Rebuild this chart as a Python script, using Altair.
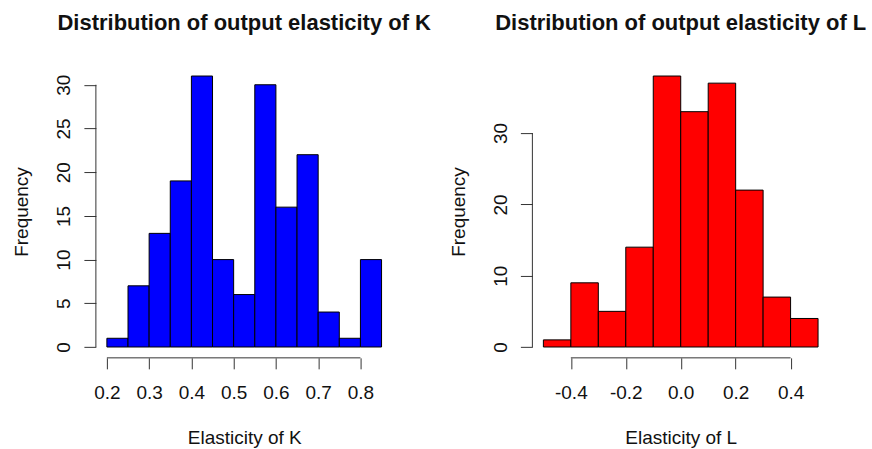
import altair as alt
import pandas as pd

# ---- data ----
k_bin_start = [0.20, 0.25, 0.30, 0.35, 0.40, 0.45, 0.50, 0.55, 0.60, 0.65, 0.70, 0.75, 0.80]
k_counts = [1, 7, 13, 19, 31, 10, 6, 30, 16, 22, 4, 1, 10]
k_bin_width = 0.05
k_x_ticks = [0.2, 0.3, 0.4, 0.5, 0.6, 0.7, 0.8]
k_y_ticks = [0, 5, 10, 15, 20, 25, 30]

l_bin_start = [-0.5, -0.4, -0.3, -0.2, -0.1, 0.0, 0.1, 0.2, 0.3, 0.4]
l_counts = [1, 9, 5, 14, 38, 33, 37, 22, 7, 4]
l_bin_width = 0.1
l_x_ticks = [-0.4, -0.2, 0.0, 0.2, 0.4]
l_y_ticks = [0, 10, 20, 30]

FONT = "Liberation Sans"
W, H = 297, 293
AXIS_COLOR = "#333333"


def panel(starts, counts, width, xticks, yticks, color, title, xtitle, label_expr):
    df = pd.DataFrame({
        "start": starts,
        "end": [s + width for s in starts],
        "count": counts,
        "base": [0] * len(counts),
    })
    xmin, xmax = starts[0], starts[-1] + width
    xpad = 0.04 * (xmax - xmin)
    xdom = [xmin - xpad, xmax + xpad]
    ymax = max(counts)
    ypad = 0.04 * ymax
    ydom = [-ypad, ymax + ypad]

    xscale = alt.Scale(domain=xdom, nice=False, zero=False)
    yscale = alt.Scale(domain=ydom, nice=False, zero=False)

    xaxis = alt.Axis(
        values=xticks, title=xtitle, domain=False, grid=False,
        tickSize=11, tickColor=AXIS_COLOR, tickWidth=1,
        labelExpr=label_expr, labelFont=FONT, labelFontSize=19,
        labelColor="#111111", labelBaseline="alphabetic", labelPadding=30,
        labelFlush=False, labelOverlap=False,
        titleFont=FONT, titleFontSize=19, titleFontWeight="normal",
        titleColor="#111111", titleBaseline="alphabetic", titleAlign="center",
        titleX=W / 2, titleY=86,
    )
    yaxis = alt.Axis(
        values=yticks, title="Frequency", domain=False, grid=False,
        tickSize=12, tickColor=AXIS_COLOR, tickWidth=1,
        labelFont=FONT, labelFontSize=19, labelColor="#111111",
        labelAngle=270, labelAlign="center", labelBaseline="alphabetic",
        labelPadding=14, labelFlush=False, labelOverlap=False,
        titleFont=FONT, titleFontSize=19, titleFontWeight="normal",
        titleColor="#111111", titleAngle=270, titleAlign="center",
        titleBaseline="alphabetic", titleX=-68, titleY=H / 2,
    )

    bars = alt.Chart(df).mark_bar(color=color, stroke="black", strokeWidth=1).encode(
        x=alt.X("start:Q", scale=xscale, axis=xaxis),
        x2="end:Q",
        y=alt.Y("count:Q", scale=yscale, axis=yaxis),
        y2="base:Q",
    )

    xline_df = pd.DataFrame({"a": [min(xticks)], "b": [max(xticks)], "y": [ydom[0]]})
    xline = alt.Chart(xline_df).mark_rule(color=AXIS_COLOR, strokeWidth=1).encode(
        x=alt.X("a:Q", scale=xscale), x2="b:Q", y=alt.Y("y:Q", scale=yscale)
    )
    yline_df = pd.DataFrame({"a": [min(yticks)], "b": [max(yticks)], "x": [xdom[0]]})
    yline = alt.Chart(yline_df).mark_rule(color=AXIS_COLOR, strokeWidth=1).encode(
        y=alt.Y("a:Q", scale=yscale), y2="b:Q", x=alt.X("x:Q", scale=xscale)
    )

    return alt.layer(bars, xline, yline).properties(
        width=W, height=H,
        title=alt.TitleParams(
            text=title, font=FONT, fontSize=22, fontWeight="bold", color="#111111",
            anchor="middle", baseline="alphabetic", offset=13,
        ),
    )


left = panel(k_bin_start, k_counts, k_bin_width, k_x_ticks, k_y_ticks, "#0000FF",
             "Distribution of output elasticity of K", "Elasticity of K",
             "format(datum.value, '.1f')")
right = panel(l_bin_start, l_counts, l_bin_width, l_x_ticks, l_y_ticks, "#FF0000",
              "Distribution of output elasticity of L", "Elasticity of L",
              "datum.value < 0 ? '-' + format(-datum.value, '.1f') : format(datum.value, '.1f')")

chart = alt.hconcat(left, right, spacing=140, bounds="flush").properties(
    padding={"left": 13, "top": 12, "right": 5, "bottom": 0},
    background="white",
).configure_view(stroke=None)

chart.save("out.html", embed_options={"renderer": "svg", "actions": False})
